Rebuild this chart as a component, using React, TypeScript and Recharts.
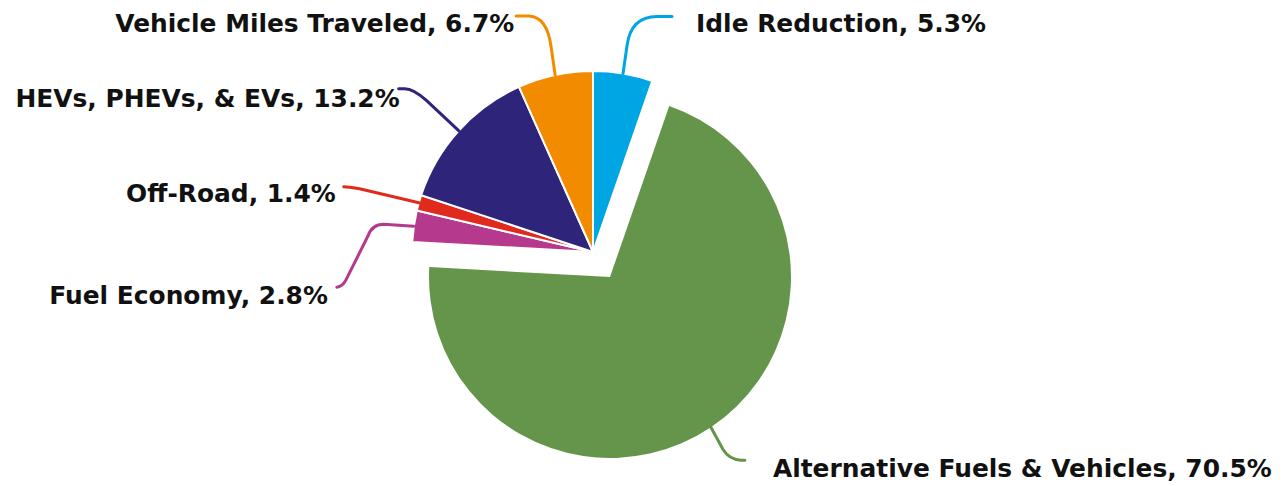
import { PieChart, Pie, Cell } from "recharts"

const categories = [
  "Idle Reduction",
  "Alternative Fuels & Vehicles",
  "Fuel Economy",
  "Off-Road",
  "HEVs, PHEVs, & EVs",
  "Vehicle Miles Traveled",
]
const shares = [5.3, 70.5, 2.8, 1.4, 13.2, 6.7]
const colors = ["#00a5e3", "#64954a", "#b53a8d", "#e02a1d", "#2e2479", "#f28b00"]
const explodedName = "Alternative Fuels & Vehicles"

const data = categories.map((name, i) => ({ name, value: shares[i] }))

// leader line (relative svg path from the slice edge) and text offset per label
const labelLayout: Record<string, { path: string; dx: number; dy: number; anchor: "start" | "end" }> = {
  "Idle Reduction": { path: "l 4 -28 q 4 -29 30 -29 l 15 0", dx: 73, dy: -42, anchor: "start" },
  "Vehicle Miles Traveled": { path: "l -4 -28 q -4 -30 -22 -31 l -13 0", dx: -41, dy: -43, anchor: "end" },
  "HEVs, PHEVs, & EVs": { path: "l -32 -30 q -13 -12 -22 -12 l -6 0", dx: -59, dy: -24, anchor: "end" },
  "Off-Road": { path: "l -55 -13 q -8 -2 -20 -3", dx: -83, dy: -1, anchor: "end" },
  "Fuel Economy": { path: "l -30 -2 q -12 0 -16 12 l -22 44 q -3 6 -9 7", dx: -86, dy: 78, anchor: "end" },
  "Alternative Fuels & Vehicles": { path: "l 12 22 q 6 10 18 11 l 4 0", dx: 62, dy: 50, anchor: "start" },
}

const RAD = Math.PI / 180

function makeLabel(showExploded: boolean) {
  return (props: any) => {
    const { cx, cy, midAngle, outerRadius, name, index } = props
    if ((name === explodedName) !== showExploded) return <g />
    const x = cx + outerRadius * Math.cos(-midAngle * RAD)
    const y = cy + outerRadius * Math.sin(-midAngle * RAD)
    const layout = labelLayout[name]
    return (
      <g>
        <path
          d={`M ${x} ${y} ${layout.path}`}
          fill="none"
          stroke={colors[index]}
          strokeWidth={3}
          strokeLinecap="round"
        />
        <text
          x={x + layout.dx}
          y={y + layout.dy}
          textAnchor={layout.anchor}
          fontFamily="DejaVu Sans"
          fontWeight="bold"
          fontSize={24.9}
          fill="#111"
        >
          {`${name}, ${shares[index]}%`}
        </text>
      </g>
    )
  }
}

export default function App() {
  return (
    <div style={{ position: "absolute", left: 0, top: 0, background: "#fff" }}>
      <PieChart width={1287} height={486} margin={{ top: 0, right: 0, bottom: 0, left: 0 }}>
        <Pie
          data={data}
          dataKey="value"
          nameKey="name"
          cx={593}
          cy={252}
          outerRadius={181}
          startAngle={90}
          endAngle={-270}
          stroke="#fff"
          strokeWidth={2}
          label={makeLabel(false)}
          labelLine={false}
          isAnimationActive={false}
        >
          {data.map((d, i) => (
            <Cell
              key={d.name}
              fill={d.name === explodedName ? "none" : colors[i]}
              stroke={d.name === explodedName ? "none" : "#fff"}
            />
          ))}
        </Pie>
        <Pie
          data={data}
          dataKey="value"
          nameKey="name"
          cx={610}
          cy={277}
          outerRadius={181}
          startAngle={90}
          endAngle={-270}
          stroke="none"
          label={makeLabel(true)}
          labelLine={false}
          isAnimationActive={false}
        >
          {data.map((d, i) => (
            <Cell key={d.name} fill={d.name === explodedName ? colors[i] : "none"} />
          ))}
        </Pie>
      </PieChart>
    </div>
  )
}
